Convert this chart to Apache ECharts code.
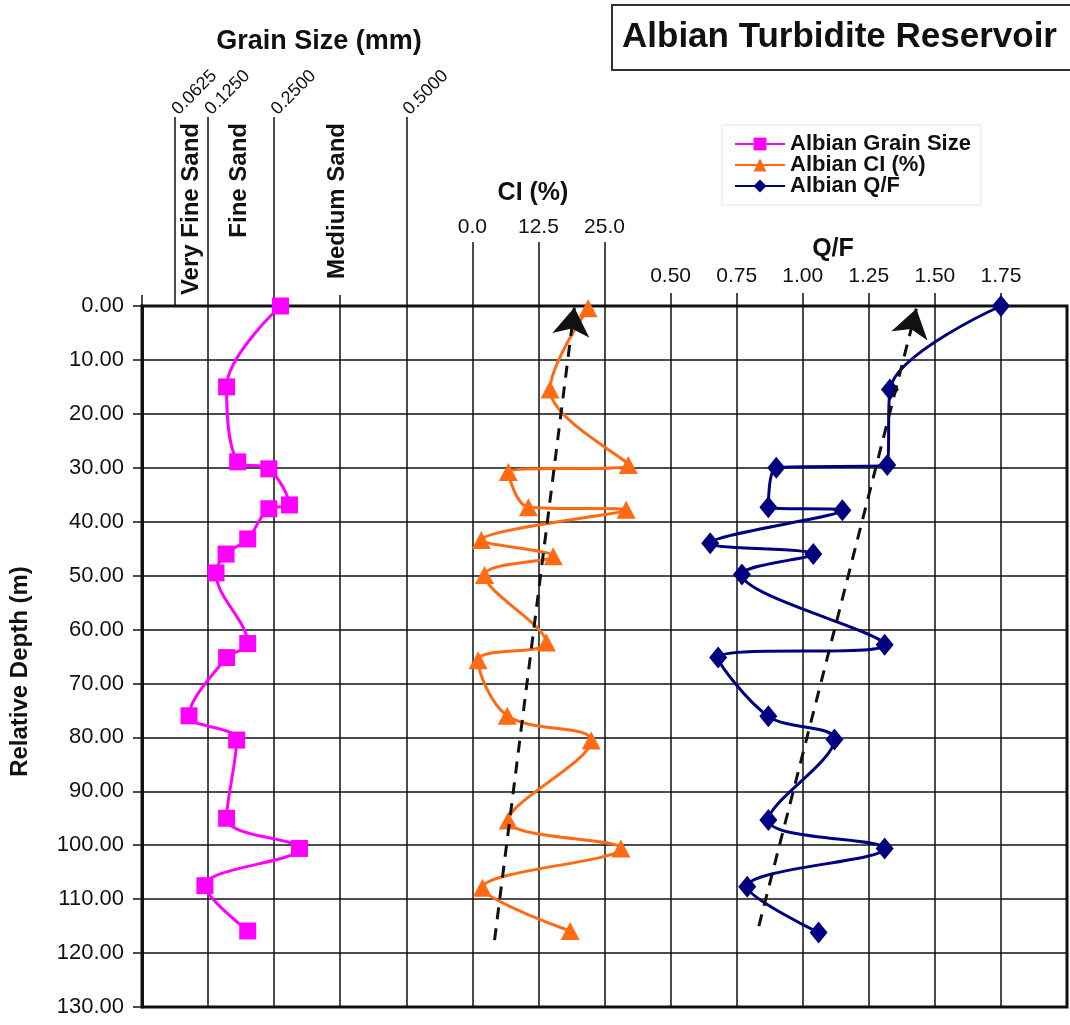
<!DOCTYPE html>
<html>
<head>
<meta charset="utf-8">
<script src="https://cdn.jsdelivr.net/npm/echarts@6/dist/echarts.min.js"></script>
<style>
html, body { margin: 0; padding: 0; background: #fff; }
#chart { width: 1070px; height: 1025px; }
</style>
</head>
<body>
<div id="chart"></div>
<script>
// depth profile data
var grainDepth = [0, 15, 28.9, 30.2, 36.9, 37.6, 43.2, 46.0, 49.5, 62.6, 65.2, 76.0, 80.5, 95.0, 100.6, 107.5, 115.9];
var grainSize  = [0.262, 0.160, 0.181, 0.240, 0.279, 0.240, 0.200, 0.159, 0.140, 0.200, 0.160, 0.089, 0.179, 0.160, 0.298, 0.119, 0.200];

var ciDepth = [0.4, 15.5, 29.5, 30.8, 37.3, 37.8, 43.4, 46.4, 49.9, 62.4, 65.7, 76.0, 80.6, 95.4, 100.6, 107.9, 115.9];
var ciValue = [21.9, 14.7, 29.5, 6.8, 10.6, 29.1, 1.7, 15.3, 2.3, 14.0, 1.1, 6.6, 22.5, 6.8, 28.1, 1.9, 18.5];

var qfDepth = [0, 15.5, 29.5, 30.0, 37.3, 37.9, 44.0, 46.0, 49.8, 62.8, 65.2, 76.1, 80.4, 95.3, 100.6, 107.7, 116.2];
var qfValue = [1.75, 1.33, 1.32, 0.90, 0.87, 1.15, 0.65, 1.04, 0.77, 1.31, 0.68, 0.87, 1.12, 0.87, 1.31, 0.79, 1.06];

// dashed trend arrows (bottom -> top)
var ciTrendDepth = [117.6, 0.3];
var ciTrendValue = [4.2, 19.3];
var qfTrendDepth = [115.0, 0.5];
var qfTrendValue = [0.834, 1.43];

// axis ticks
var grainTicks = [0.0625, 0.125, 0.25, 0.5];
var shortTicks = [0, 0.375];
var ciTicks = [0, 12.5, 25];
var qfTicks = [0.5, 0.75, 1.0, 1.25, 1.5, 1.75];

function pairs(xs, ys) {
    return xs.map(function (v, i) { return [v, ys[i]]; });
}

var font = '"Liberation Sans", Arial, sans-serif';
var ink = '#111';

var chart = echarts.init(document.getElementById('chart'));

var option = {
    backgroundColor: '#fff',
    animation: false,
    textStyle: { fontFamily: font, color: ink },
    title: {
        text: 'Albian Turbidite Reservoir',
        left: 612,
        top: 5,
        padding: [15, 30, 15, 10],
        borderColor: '#333',
        borderWidth: 2,
        textStyle: { fontSize: 35, fontWeight: 'bold', color: ink, fontFamily: font }
    },
    legend: {
        data: ['Albian Grain Size', 'Albian CI (%)', 'Albian Q/F'],
        orient: 'vertical',
        left: 722,
        top: 125,
        padding: [8, 10, 8, 12],
        itemGap: -1,
        itemWidth: 50,
        itemHeight: 16,
        borderColor: '#e4e4e4',
        borderWidth: 1,
        backgroundColor: '#fff',
        textStyle: { fontSize: 22, fontWeight: 'bold', color: ink, fontFamily: font, lineHeight: 20 }
    },
    grid: {
        left: 140,
        right: 3,
        top: 306,
        bottom: 18,
        show: true,
        borderColor: ink,
        borderWidth: 3,
        backgroundColor: 'transparent'
    },
    graphic: [
        { type: 'text', x: 319, y: 42, style: { text: 'Grain Size (mm)', font: 'bold 27px ' + font, fill: ink, align: 'center', verticalAlign: 'middle' } },
        { type: 'text', x: 533, y: 193, style: { text: 'CI (%)', font: 'bold 25px ' + font, fill: ink, align: 'center', verticalAlign: 'middle' } },
        { type: 'text', x: 833, y: 249, style: { text: 'Q/F', font: 'bold 25px ' + font, fill: ink, align: 'center', verticalAlign: 'middle' } },
        { type: 'text', x: 191, y: 123, rotation: Math.PI / 2, style: { text: 'Very Fine Sand', font: 'bold 24px ' + font, fill: ink, align: 'right', verticalAlign: 'middle' } },
        { type: 'text', x: 239, y: 123, rotation: Math.PI / 2, style: { text: 'Fine Sand', font: 'bold 24px ' + font, fill: ink, align: 'right', verticalAlign: 'middle' } },
        { type: 'text', x: 337, y: 123, rotation: Math.PI / 2, style: { text: 'Medium Sand', font: 'bold 24px ' + font, fill: ink, align: 'right', verticalAlign: 'middle' } }
    ],
    xAxis: [
        {   // grid columns
            type: 'value', position: 'top', min: 0, max: 14, interval: 1,
            axisLine: { show: false },
            axisLabel: { show: false },
            axisTick: { show: false },
            splitLine: { show: true, lineStyle: { color: ink, width: 1.5 } }
        },
        {   // grain size
            type: 'value', position: 'top', min: 0, max: 1.75,
            axisLine: { show: false },
            splitLine: { show: false },
            axisTick: { show: true, customValues: grainTicks, length: 189, lineStyle: { color: ink, width: 1.5 } },
            axisLabel: {
                customValues: grainTicks, rotate: -45, margin: 194, fontSize: 18, color: ink,
                formatter: function (v) { return v.toFixed(4); }
            }
        },
        {   // CI
            type: 'value', position: 'top', min: -62.5, max: 112.5,
            axisLine: { show: false },
            splitLine: { show: false },
            axisTick: { show: true, customValues: ciTicks, length: 64, lineStyle: { color: ink, width: 1.5 } },
            axisLabel: {
                customValues: ciTicks, margin: 68, fontSize: 21, color: ink,
                formatter: function (v) { return v.toFixed(1); }
            }
        },
        {   // Q/F
            type: 'value', position: 'top', min: -1.5, max: 2.0,
            axisLine: { show: false },
            splitLine: { show: false },
            axisTick: { show: true, customValues: qfTicks, length: 13, lineStyle: { color: ink, width: 1.5 } },
            axisLabel: {
                customValues: qfTicks, margin: 19, fontSize: 21, color: ink,
                formatter: function (v) { return v.toFixed(2); }
            }
        },
        {   // short ticks above the frame
            type: 'value', position: 'top', min: 0, max: 1.75,
            axisLine: { show: false },
            splitLine: { show: false },
            axisLabel: { show: false },
            axisTick: { show: true, customValues: shortTicks, length: 11, lineStyle: { color: ink, width: 1.5 } }
        }
    ],
    yAxis: {
        type: 'value',
        inverse: true,
        min: 0,
        max: 130,
        interval: 10,
        name: 'Relative Depth (m)',
        nameLocation: 'middle',
        nameGap: 110,
        nameTextStyle: { fontSize: 24, fontWeight: 'bold', color: ink, fontFamily: font, padding: [0, 30, 0, 0] },
        axisLine: { show: true, lineStyle: { color: ink, width: 3 } },
        axisTick: { show: true, length: 9, lineStyle: { color: ink, width: 1.5 } },
        axisLabel: {
            fontSize: 22, margin: 18, color: ink,
            formatter: function (v) { return v.toFixed(2); }
        },
        splitLine: { show: true, lineStyle: { color: ink, width: 1.5 } }
    },
    series: [
        {
            name: 'Albian Grain Size',
            type: 'line',
            xAxisIndex: 1,
            data: pairs(grainSize, grainDepth),
            smooth: 0.35,
            symbol: 'rect',
            symbolSize: 17,
            lineStyle: { color: '#ff00ff', width: 3 },
            itemStyle: { color: '#ff00ff' },
            z: 5
        },
        {
            name: 'Albian CI (%)',
            type: 'line',
            xAxisIndex: 2,
            data: pairs(ciValue, ciDepth),
            smooth: 0.35,
            symbol: 'triangle',
            symbolSize: [19, 18],
            lineStyle: { color: '#ff6a13', width: 3 },
            itemStyle: { color: '#ff6a13' },
            z: 5
        },
        {
            name: 'Albian Q/F',
            type: 'line',
            xAxisIndex: 3,
            data: pairs(qfValue, qfDepth),
            smooth: 0.35,
            symbol: 'diamond',
            symbolSize: [18, 22],
            lineStyle: { color: '#000080', width: 3 },
            itemStyle: { color: '#000080' },
            z: 5
        },
        {
            type: 'lines',
            coordinateSystem: 'cartesian2d',
            xAxisIndex: 2,
            yAxisIndex: 0,
            symbol: ['none', 'arrow'],
            symbolSize: [14, 28],
            lineStyle: { color: ink, width: 3, type: [12, 9], opacity: 1 },
            data: [{ coords: pairs(ciTrendValue, ciTrendDepth) }],
            z: 6
        },
        {
            type: 'lines',
            coordinateSystem: 'cartesian2d',
            xAxisIndex: 3,
            yAxisIndex: 0,
            symbol: ['none', 'arrow'],
            symbolSize: [14, 28],
            lineStyle: { color: ink, width: 3, type: [12, 9], opacity: 1 },
            data: [{ coords: pairs(qfTrendValue, qfTrendDepth) }],
            z: 6
        }
    ]
};

chart.setOption(option);
</script>
</body>
</html>
